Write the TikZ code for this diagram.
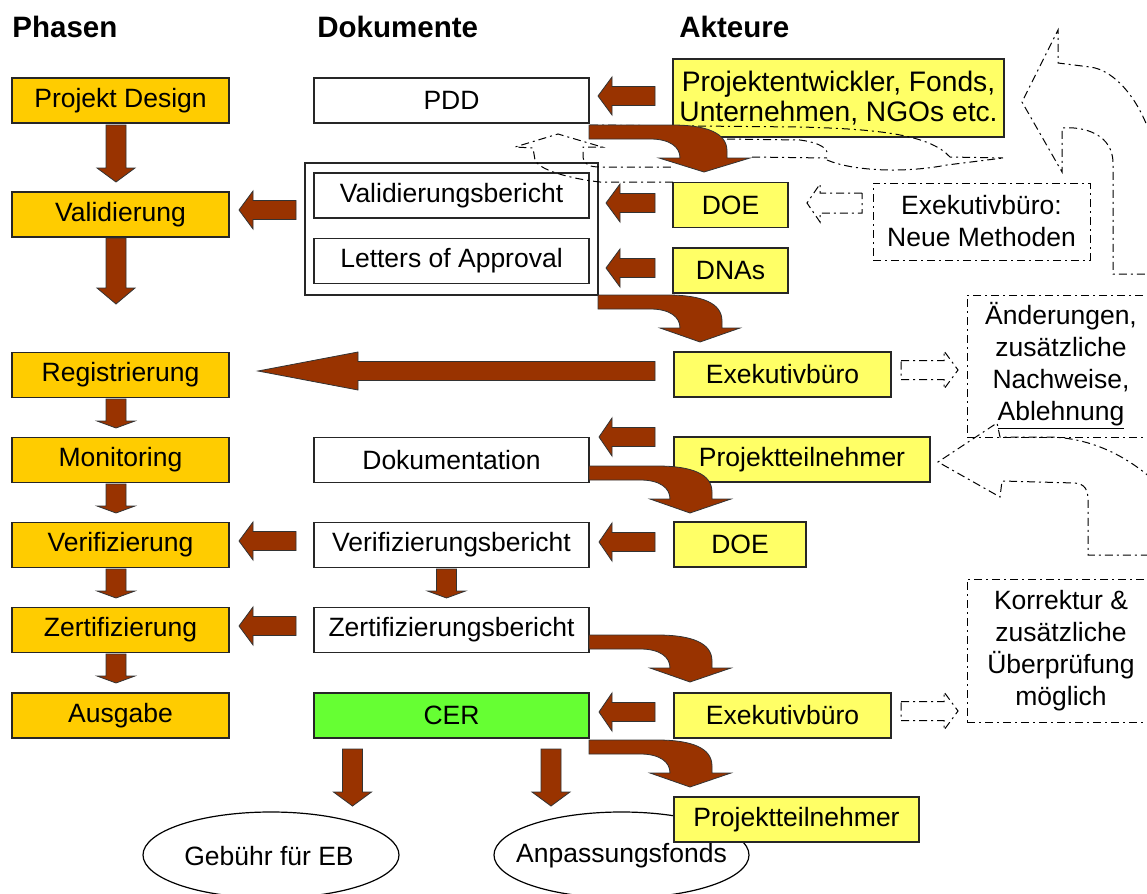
\documentclass[tikz,border=0pt]{standalone}
\usepackage{fontspec}
\setmainfont{Liberation Sans}
\usetikzlibrary{shapes.geometric}
\definecolor{brn}{HTML}{993300}
\definecolor{phasefill}{HTML}{FFCC00}
\definecolor{actfill}{HTML}{FFFF66}
\definecolor{cerfill}{HTML}{66FF33}
\newcommand{\bodyfont}{\fontsize{13.25}{15}\selectfont}
\newcommand{\bigbodyfont}{\fontsize{14.1}{15}\selectfont}
\newcommand{\notefont}{\fontsize{13.25}{16}\selectfont}
\newcommand{\hdrfont}{\fontsize{14.75}{17}\selectfont\bfseries}
% left block arrow: tip, head base, right end, y centre
\newcommand{\blkL}[4]{\filldraw[blockarrow] (#1,#4) -- (#2,#4-19) -- (#2,#4-9.5) -- (#3,#4-9.5) -- (#3,#4+9.5) -- (#2,#4+9.5) -- (#2,#4+19) -- cycle;}
% down block arrow: x centre, top, head base, tip
\newcommand{\blkD}[4]{\filldraw[blockarrow] (#1-10,#2) -- (#1+10,#2) -- (#1+10,#3) -- (#1+19,#3) -- (#1,#4) -- (#1-19,#3) -- (#1-10,#3) -- cycle;}
% curved block arrow: start x, top y, inner x, outer x, head left, head right, tip x
\newcommand{\blkC}[7]{\filldraw[blockarrow] (#1,#2) -- (#4-55,#2) .. controls (#4-20,#2) and (#4,#2+8) .. (#4,#2+26) -- (#4,#2+33) -- (#6,#2+33) -- (#7,#2+47) -- (#5,#2+33) -- (#3,#2+33) .. controls (#3,#2+22) and (#3-10,#2+14) .. (#3-30,#2+14) -- (#1,#2+14) -- cycle;}
% dash-dot right arrow: left end, y centre
\newcommand{\ddR}[2]{\draw[ddot] (#1,#2-9.5) -- (#1+43,#2-9.5) -- (#1+43,#2-19) -- (#1+57,#2) -- (#1+43,#2+19) -- (#1+43,#2+9.5) -- (#1,#2+9.5) -- cycle;}
\tikzset{
  bx/.style={draw=black!85, line width=0.6pt, inner sep=0pt, minimum height=22.5pt, font=\bodyfont},
  phase/.style={bx, fill=phasefill, minimum width=108.5pt},
  doc/.style={bx, fill=white, minimum width=137.5pt},
  act/.style={bx, fill=actfill},
  ddot/.style={draw=black, line width=0.5pt, dash pattern=on 4pt off 2pt on 1pt off 2pt},
  note/.style={ddot, align=center, inner sep=0pt, font=\notefont},
  hdr/.style={inner sep=0pt, font=\hdrfont},
  blockarrow/.style={fill=brn, draw=black!80, line width=0.4pt, line join=miter},
  plain/.style={inner sep=0pt, font=\bodyfont}
}
\begin{document}
\begin{tikzpicture}[x=0.5pt,y=-0.5pt]
\useasboundingbox (0,0) rectangle (1147,894);
\clip (0,0) rectangle (1147,894);
\fill[white] (0,0) rectangle (1147,894);

% headers
\node[hdr, anchor=base west] (hph) at (12,38) {Phasen};
\node[hdr, anchor=base west] (hdo) at (317,38) {Dokumente};
\node[hdr, anchor=base west] (hak) at (679,38) {Akteure};

% ellipses
\node[plain] (geb) at (269,856) {Gebühr für EB};
\draw[line width=0.6pt] (271,855) ellipse [x radius=64pt, y radius=21.5pt];
\node[plain] (anp) at (621.5,856) {Anpassungsfonds};
\draw[line width=0.6pt] (621.5,855) ellipse [x radius=63.75pt, y radius=21.5pt];

% phases
\node[phase] (pd)  at (120.5,100.5) {Projekt Design};
\node[phase] (val) at (120.5,214.5) {Validierung};
\node[phase] (reg) at (120.5,375)   {Registrierung};
\node[phase] (mon) at (120.5,460)   {Monitoring};
\node[phase] (ver) at (120.5,545)   {Verifizierung};
\node[phase] (zer) at (120.5,630)   {Zertifizierung};
\node[phase] (aus) at (120.5,715.5) {Ausgabe};

% documents
\node[draw=black!85, line width=0.6pt, minimum width=146.5pt, minimum height=66pt, inner sep=0pt] (grp) at (451.5,229) {};
\node[doc] (pdd)   at (451.5,100.5) {PDD};
\node[doc] (valb)  at (451.5,195.5) {Validierungsbericht};
\node[doc] (loa)   at (451.5,261)   {Letters of Approval};
\node[doc] (dok)   at (451.5,460)   {Dokumentation};
\node[doc] (verb)  at (451.5,545)   {Verifizierungsbericht};
\node[doc] (zertb) at (451.5,630)   {Zertifizierungsbericht};
\node[doc, fill=cerfill] (cer) at (451.5,715.5) {CER};

% actors
\node[act, minimum width=165.5pt, minimum height=39pt, align=center, font=\bigbodyfont] (pe) at (838.5,98) {Projektentwickler, Fonds,\\Unternehmen, NGOs etc.};
\node[act, minimum width=57.5pt]  (doe1) at (730.5,205)   {DOE};
\node[act, minimum width=57.5pt]  (dnas) at (730.5,270.5) {DNAs};
\node[act, minimum width=108.5pt] (exe1) at (782.5,374.5) {Exekutivbüro};
\node[act, minimum width=128pt]   (pt1)  at (802,459.5)   {Projektteilnehmer};
\node[act, minimum width=66pt]    (doe2) at (740,544.5)   {DOE};
\node[act, minimum width=108.5pt] (exe2) at (782.5,715.5) {Exekutivbüro};
\node[act, minimum width=122.5pt] (pt2)  at (796.5,819.5) {Projektteilnehmer};

% notes
\node[note, minimum width=108.5pt, minimum height=38.5pt] (nm) at (981.5,221.5) {Exekutivbüro:\\Neue Methoden};
\node[note, minimum width=94pt, minimum height=71pt] (aend) at (1061,366) {Änderungen,\\zusätzliche\\Nachweise,\\\underline{Ablehnung}};
\node[note, minimum width=94pt, minimum height=71.5pt] (korr) at (1061,650.5) {Korrektur \&\\zusätzliche\\Überprüfung\\möglich};

% dash-dot outline arrows
\draw[ddot] (862,193) -- (820,193) -- (820,184) -- (807,203) -- (820,222) -- (820,213) -- (862,213) -- cycle;
\ddR{901}{370}
\ddR{901}{711}
% big upper right curved arrow
\draw[ddot] (1152,140) .. controls (1140,100) and (1115,70) .. (1090,67) -- (1058,63) -- (1058,30) -- (1022,102) -- (1062,172) -- (1062,128) .. controls (1085,126) and (1113,135) .. (1113,163) -- (1113,274) -- (1160,274);
% middle right curved arrow
\draw[ddot] (1152,479) .. controls (1125,455) and (1090,438) .. (1050,437) -- (1000,437) -- (997,423) -- (938,462) -- (1000,497) -- (1002,481) -- (1075,483) .. controls (1085,484) and (1088,490) .. (1088,500) -- (1088,555) -- (1160,555);
% upper middle curved arrow
\draw[ddot] (673,182) -- (600,182) .. controls (580,180) and (540,172) .. (535,160) -- (533,148) -- (515,147) -- (558,134) -- (602,147) -- (583,147) -- (583,157) .. controls (584,165) and (590,167) .. (600,167) -- (673,167);
\draw[ddot] (590,125) -- (800,127) .. controls (880,129) and (930,135) .. (950,157) -- (1003,158);
\draw[ddot] (727,139) -- (800,140) .. controls (815,142) and (825,146) .. (827,152);
\draw[ddot] (752,157) -- (827,158);
\draw[ddot] (827,160) .. controls (850,170) and (900,174) .. (947,165) -- (1003,158);

% brown block arrows, down
\blkD{116}{125}{168}{182}
\blkD{116}{238}{288}{304}
\blkD{116}{399}{421}{428}
\blkD{116}{484}{506}{513}
\blkD{116}{569}{591}{598}
\blkD{116}{654}{676}{683}
\blkD{446.5}{569}{591}{598}
\blkD{352.5}{749}{792}{806}
\blkD{551}{749}{792}{806}
% left
\blkL{598}{612}{655}{96}
\blkL{606}{620}{655}{203}
\blkL{606}{620}{655}{268}
\blkL{239}{253}{296}{210}
\blkL{258}{358}{655}{371}
\blkL{599}{612}{655}{437}
\blkL{599}{612}{655}{542}
\blkL{239}{253}{296}{541}
\blkL{239}{253}{296}{626}
\blkL{599}{612}{655}{712}
% curved
\blkC{589}{125}{680}{727}{659}{750}{704}
\blkC{598}{295}{680}{722}{660}{740}{700}
\blkC{589}{466}{670}{712}{650}{731}{690}
\blkC{589}{635}{670}{712}{650}{731}{690}
\blkC{589}{740}{670}{712}{650}{731}{690}
\end{tikzpicture}
\end{document}
